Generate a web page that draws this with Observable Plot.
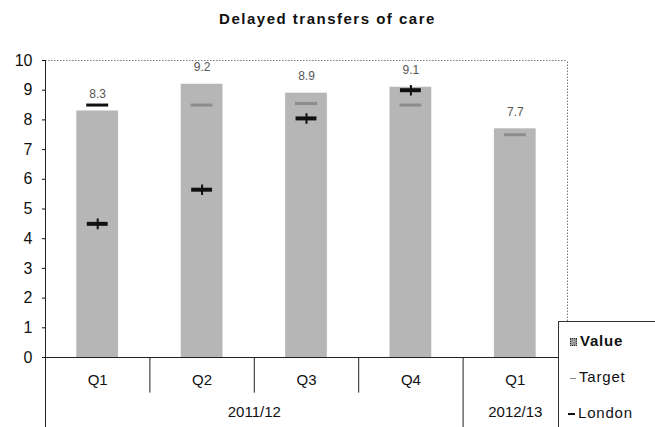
<!DOCTYPE html>
<html>
<head>
<meta charset="utf-8">
<script src="https://cdn.jsdelivr.net/npm/d3@7"></script>
<script src="https://cdn.jsdelivr.net/npm/@observablehq/plot@0.6"></script>
<style>
  body { margin: 0; background: #fff; font-family: "Liberation Sans", Arial, sans-serif; }
  #wrap { position: relative; width: 655px; height: 427px; overflow: hidden; }
  #title { height: 40px; line-height: 38px; text-align: center; font-weight: bold; font-size: 15px; letter-spacing: 1.5px; color: #111; }
  #legend { position: absolute; left: 558px; top: 321px; width: 97px; height: 106px; background: #fff;
            border-left: 1px solid #333; border-top: 1px solid #333; font-size: 15px; letter-spacing: 0.8px; color: #111; }
  .li { position: absolute; left: 9px; height: 18px; line-height: 18px; white-space: nowrap; }
  .mk { display: inline-block; width: 9px; margin-right: 3px; vertical-align: middle; }
</style>
</head>
<body>
<div id="wrap">
  <div id="title">Delayed transfers of care</div>
  <div id="chart"></div>
  <div id="legend">
    <div class="li" style="top:10px;font-weight:bold;"><span class="mk" style="height:6px;background:#999;border:1px dotted #333;width:5px;margin-left:2px;"></span>Value</div>
    <div class="li" style="top:46px;"><span class="mk" style="height:1px;background:#888;width:6px;margin-left:2px;"></span>Target</div>
    <div class="li" style="top:82px;"><span class="mk" style="height:2px;background:#111;width:7px;"></span>London</div>
  </div>
</div>
<script>
const quarters = ["Q1", "Q2", "Q3", "Q4", "Q1"];
const years = ["2011/12", "2011/12", "2011/12", "2011/12", "2012/13"];
const values = [8.3, 9.2, 8.9, 9.1, 7.7];
const targets = [8.5, 8.5, 8.55, 8.5, 7.5];
const london = [4.5, 5.65, 8.05, 9.0, null];
const valueLabels = ["8.3", "9.2", "8.9", "9.1", "7.7"];
const yTicks = [0, 1, 2, 3, 4, 5, 6, 7, 8, 9, 10];
const yearGroups = [{year: "2011/12", mid: 1.5}, {year: "2012/13", mid: 4}];
const quarterSeparators = [0.5, 1.5, 2.5];
const yearSeparators = [-0.5, 3.5];

const rows = quarters.map((q, i) => ({i, q, year: years[i], value: values[i], target: targets[i], london: london[i], label: valueLabels[i]}));
const londonRows = rows.filter(d => d.london != null);

const chart = Plot.plot({
  width: 655,
  height: 387,
  marginLeft: 45,
  marginRight: 88,
  marginTop: 20,
  marginBottom: 70,
  style: {fontFamily: "Liberation Sans, Arial, sans-serif", background: "#fff", overflow: "visible"},
  x: {type: "linear", domain: [-0.5, 4.5], axis: null},
  y: {domain: [0, 10], axis: null},
  marks: [
    Plot.ruleY([10], {stroke: "#777", strokeDasharray: "1.5,1.5", strokeWidth: 1}),
    Plot.ruleX([4.5], {y1: 0, y2: 10, stroke: "#777", strokeDasharray: "1.5,1.5", strokeWidth: 1}),
    Plot.rectY(rows, {x1: d => d.i - 0.2, x2: d => d.i + 0.2, y1: 0, y2: "value", fill: "#b6b6b6"}),
    Plot.ruleY(rows, {x1: d => d.i - 0.105, x2: d => d.i + 0.105, y: "target",
      stroke: d => d.target > d.value ? "#111" : "#8c8c8c", strokeWidth: 3}),
    Plot.ruleY(londonRows, {x1: d => d.i - 0.1, x2: d => d.i + 0.1, y: "london", stroke: "#111", strokeWidth: 4}),
    Plot.dot(londonRows, {x: "i", y: "london", symbol: "plus", r: 3.5, stroke: "#111", strokeWidth: 2}),
    Plot.text(rows, {x: "i", y: "value", text: "label", dy: -17, fontSize: 12, fill: "#555", letterSpacing: "2px"}),
    Plot.ruleY([0], {stroke: "#222", strokeWidth: 1.2}),
    Plot.ruleX(yearSeparators, {y1: -2.4, y2: d => d < 0 ? 10 : 0, stroke: "#222", strokeWidth: 1}),
    Plot.ruleX(quarterSeparators, {y1: -1.2, y2: 0, stroke: "#222", strokeWidth: 1}),
    Plot.axisY({ticks: yTicks, tickSize: 3, tickPadding: 10, fontSize: 16, tickFormat: d => String(d), color: "#111"}),
    Plot.text(rows, {x: "i", y: 0, text: "q", dy: 23, fontSize: 15, fill: "#111", letterSpacing: "1px"}),
    Plot.text(yearGroups, {x: "mid", y: 0, text: "year", dy: 55, fontSize: 15, fill: "#111", letterSpacing: "1px"})
  ]
});
document.getElementById("chart").appendChild(chart);
</script>
</body>
</html>
